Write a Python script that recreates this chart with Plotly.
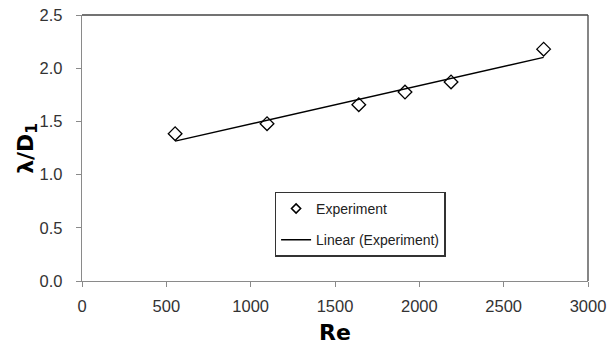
import numpy as np
import plotly.graph_objects as go

# Measured wavelength ratio versus Reynolds number
re_values = [552, 1097, 1641, 1915, 2188, 2737]
lambda_d1 = [1.384, 1.478, 1.657, 1.776, 1.871, 2.179]

x_ticks = [0, 500, 1000, 1500, 2000, 2500, 3000]
y_ticks = [0.0, 0.5, 1.0, 1.5, 2.0, 2.5]

# Least-squares linear trendline through the measurements
slope, intercept = np.polyfit(re_values, lambda_d1, 1)
fit_x = [min(re_values), max(re_values)]
fit_y = [slope * v + intercept for v in fit_x]

FONT = "Liberation Sans"
TITLE_FONT = "DejaVu Sans"

fig = go.Figure()
fig.add_trace(go.Scatter(
    x=re_values, y=lambda_d1, mode="markers", name="Experiment",
    marker=dict(symbol="diamond-open", size=10.5, color="black",
                line=dict(width=1.3, color="black")),
    showlegend=False,
))
# Legend entry for the measurements, drawn with a smaller symbol
fig.add_trace(go.Scatter(
    x=[None], y=[None], mode="markers", name="Experiment",
    marker=dict(symbol="diamond-open", size=7, color="black",
                line=dict(width=1.6, color="black")),
    legendgroup="a",
))
fig.add_trace(go.Scatter(
    x=fit_x, y=fit_y, mode="lines", name="Linear (Experiment)",
    line=dict(color="black", width=1.4),
    legendgroup="b",
))

axis_common = dict(
    showgrid=False, zeroline=False, showline=True, linecolor="#8a8a8a",
    linewidth=1.3, ticks="outside", ticklen=5, tickcolor="#8a8a8a",
    tickfont=dict(family=FONT, size=16.5, color="#333333"),
    automargin=False,
)

fig.update_layout(
    width=608, height=345,
    margin=dict(l=82, r=20, t=15, b=64),
    paper_bgcolor="white", plot_bgcolor="white",
    xaxis=dict(range=[0, 3000], tickvals=x_ticks,
               ticktext=[str(v) for v in x_ticks],
               ticklabelstandoff=5,
               **axis_common),
    yaxis=dict(range=[0, 2.5], tickvals=y_ticks,
               ticktext=[f"{v:.1f}" for v in y_ticks],
               ticklabelstandoff=10,
               **axis_common),
    showlegend=True,
    legend=dict(
        x=0.381, y=0.336, xanchor="left", yanchor="top",
        bgcolor="white", bordercolor="#333333", borderwidth=1.3,
        font=dict(family=FONT, size=14, color="#222222"),
        tracegroupgap=10, itemwidth=30,
    ),
    annotations=[
        dict(text="<b>Re</b>", xref="paper", yref="paper", x=0.5, y=-0.195,
             xanchor="center", yanchor="middle", showarrow=False,
             font=dict(family=TITLE_FONT, size=22, color="black")),
        dict(text="<b>λ/D<sub>1</sub></b>", xref="paper", yref="paper",
             x=-0.109, y=0.5, xanchor="center", yanchor="middle",
             textangle=-90, showarrow=False,
             font=dict(family=TITLE_FONT, size=22, color="black")),
    ],
    shapes=[
        dict(type="line", xref="paper", yref="paper", x0=0, x1=1, y0=1, y1=1,
             line=dict(color="#444444", width=1.3)),
        dict(type="line", xref="paper", yref="paper", x0=1, x1=1, y0=0, y1=1,
             line=dict(color="#444444", width=1.3)),
    ],
)

fig.write_html("out.html")
